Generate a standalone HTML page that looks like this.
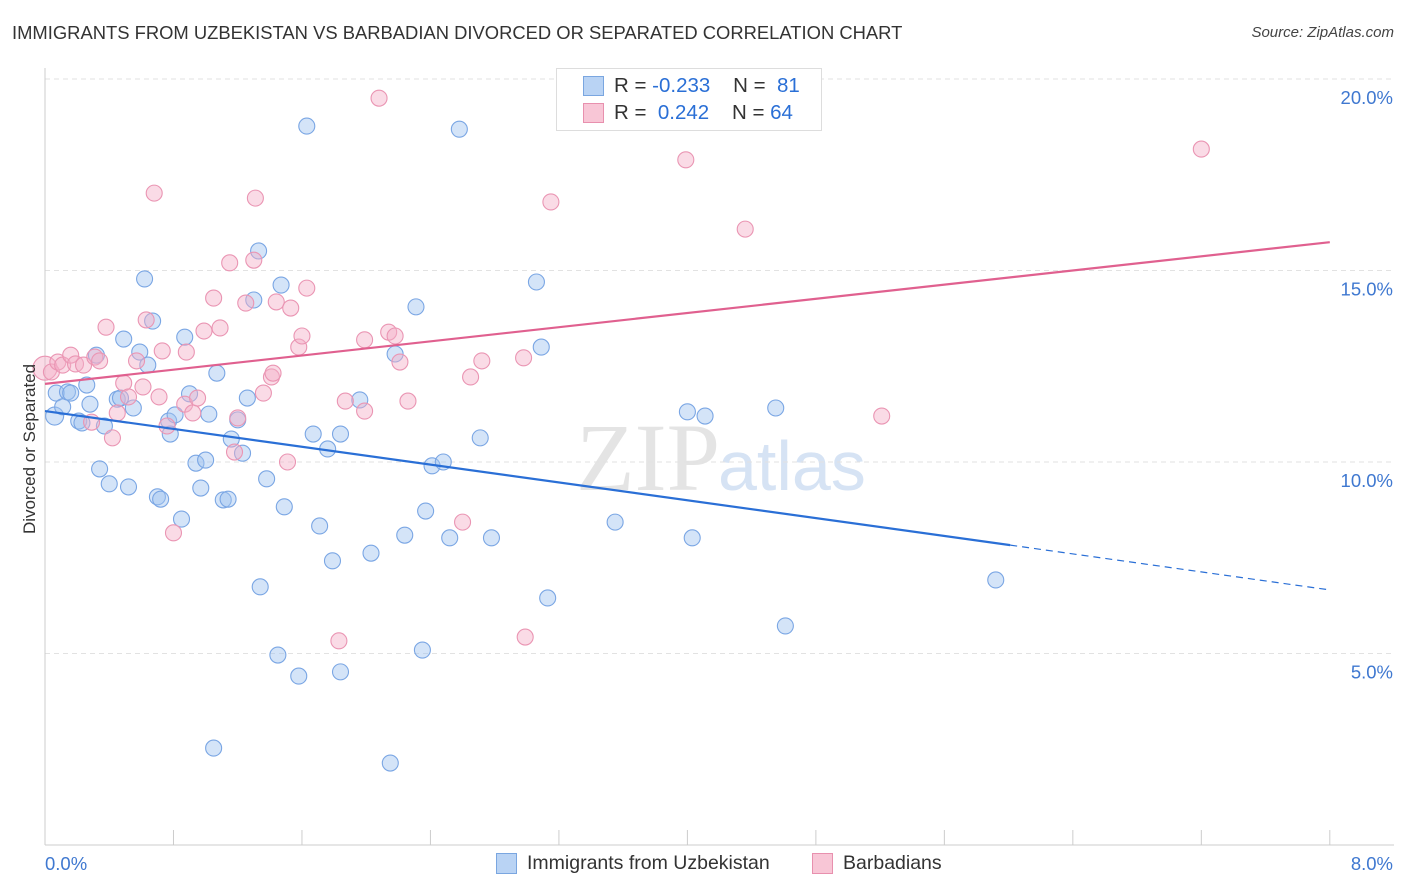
<!DOCTYPE html>
<html><head><meta charset="utf-8"><style>
body{margin:0;background:#fff;font-family:"Liberation Sans",sans-serif;}
#wrap{position:relative;width:1406px;height:892px;overflow:hidden;}
.t{position:absolute;white-space:nowrap;}
</style></head><body>
<div id="wrap">
<div class="t" style="left:12px;top:22px;font-size:18.4px;color:#333;">IMMIGRANTS FROM UZBEKISTAN VS BARBADIAN DIVORCED OR SEPARATED CORRELATION CHART</div>
<div class="t" style="right:12px;top:24px;font-size:15px;color:#444;font-style:italic;">Source: ZipAtlas.com</div>
<svg id="plot" width="1406" height="892" style="position:absolute;left:0;top:0">
<text x="720" y="490" text-anchor="end" font-family="Liberation Serif" font-size="96" fill="#e4e4e4">ZIP</text>
<text x="718" y="490" font-family="Liberation Sans" font-size="70" fill="#d6e3f4">atlas</text>
<g id="grid"></g><g id="pts"></g><g id="lines"></g>
</svg>
<div class="t" style="left:-50px;top:444px;font-size:17px;color:#333;transform:rotate(-90deg);width:160px;text-align:center;">Divorced or Separated</div>
<div style="position:absolute;left:556px;top:68px;width:264px;height:61px;border:1px solid #ddd;background:#fff;">
 <div style="position:absolute;left:26px;top:7px;width:19px;height:18px;background:#b9d3f4;border:1px solid #7aa6e0;"></div>
 <div class="t" style="left:57px;top:5px;font-size:20.5px;color:#333;">R = <span style="color:#2a6fd6">-0.233</span>&nbsp;&nbsp;&nbsp; N = &nbsp;<span style="color:#2a6fd6">81</span></div>
 <div style="position:absolute;left:26px;top:34px;width:19px;height:18px;background:#f8c6d6;border:1px solid #e890ae;"></div>
 <div class="t" style="left:57px;top:32px;font-size:20.5px;color:#333;">R = &nbsp;<span style="color:#2a6fd6">0.242</span>&nbsp;&nbsp;&nbsp; N = <span style="color:#2a6fd6">64</span></div>
</div>
<div style="position:absolute;left:496px;top:853px;width:19px;height:19px;background:#b9d3f4;border:1px solid #7aa6e0;"></div>
<div class="t" style="left:527px;top:852px;font-size:19.5px;color:#333;">Immigrants from Uzbekistan</div>
<div style="position:absolute;left:812px;top:853px;width:19px;height:19px;background:#f8c6d6;border:1px solid #e890ae;"></div>
<div class="t" style="left:843px;top:852px;font-size:19.5px;color:#333;">Barbadians</div>
</div>
<script>
const blueX=[.06,.07,.11,.14,.16,.21,.23,.26,.28,.32,.34,.37,.40,.45,.47,.49,.52,.55,.59,.62,.64,.67,.70,.72,.77,.78,.81,.85,.87,.90,.94,.97,1.00,1.02,1.05,1.07,1.11,1.14,1.16,1.20,1.23,1.26,1.30,1.33,1.34,1.38,1.45,1.47,1.49,1.58,1.63,1.67,1.71,1.76,1.79,1.84,1.84,1.96,2.03,2.15,2.18,2.24,2.31,2.35,2.37,2.41,2.48,2.52,2.58,2.71,2.78,3.06,3.09,3.13,3.55,4.00,4.03,4.11,4.55,4.61,5.92];
const blueY=[11.20,11.80,11.44,11.83,11.80,11.07,11.02,12.01,11.51,12.79,9.82,10.94,9.43,11.64,11.67,13.21,9.35,11.41,12.87,14.78,12.53,13.68,9.09,9.03,11.07,10.73,11.23,8.51,13.26,11.78,9.97,9.32,10.05,11.25,2.53,12.32,9.01,9.03,10.60,11.10,10.23,11.67,14.23,15.51,6.74,9.56,4.96,14.62,8.83,4.41,18.77,10.73,8.33,10.34,7.42,4.52,10.73,11.62,7.62,2.14,12.82,8.09,14.05,5.09,8.72,9.90,10.00,8.02,18.69,10.63,8.02,14.70,13.00,6.45,8.43,11.31,8.02,11.20,11.41,5.72,6.92];
const pinkX=[0.00,.04,.08,.11,.16,.19,.24,.29,.31,.34,.38,.42,.45,.49,.52,.57,.61,.63,.68,.71,.73,.76,.80,.87,.88,.92,.95,.99,1.05,1.09,1.15,1.18,1.20,1.25,1.30,1.31,1.36,1.41,1.42,1.44,1.51,1.53,1.58,1.60,1.63,1.83,1.87,1.99,1.99,2.08,2.14,2.18,2.21,2.26,2.60,2.65,2.72,2.98,2.99,3.15,3.99,4.36,5.21,7.20];
const pinkY=[12.45,12.35,12.61,12.53,12.79,12.56,12.53,11.04,12.74,12.64,13.52,10.63,11.28,12.06,11.70,12.64,11.96,13.71,17.02,11.70,12.90,10.94,8.15,11.51,12.87,11.28,11.67,13.42,14.28,13.50,15.20,10.26,11.15,14.15,15.27,16.89,11.80,12.22,12.32,14.18,10.00,14.02,13.00,13.29,14.54,5.33,11.59,11.33,13.19,19.50,13.39,13.29,12.61,11.59,8.43,12.22,12.64,12.72,5.43,16.79,17.89,16.08,11.20,18.17];
const blueTrend=[[0,11.33],[6.01,7.83],[8,6.66]];
const pinkTrend=[[0,12.04],[8,15.74]];
const yTicks=[5,10,15,20];
const xTickLabels=["0.0%","8.0%"];
const NS="http://www.w3.org/2000/svg";
const sx=v=>45+v*160.6, sy=v=>845-v*38.3;
function mk(tag,attrs,parent){const e=document.createElementNS(NS,tag);for(const k in attrs)e.setAttribute(k,attrs[k]);parent.appendChild(e);return e;}
const grid=document.getElementById('grid'),pts=document.getElementById('pts'),lines=document.getElementById('lines');
yTicks.forEach(t=>{
 const l=mk('line',{x1:45,x2:1394,y1:sy(t),y2:sy(t),stroke:'#e2e2e2','stroke-dasharray':'5,4'},grid);
 
 
 const tx=mk('text',{x:1393,y:sy(t)+25,'text-anchor':'end','font-size':18.5,fill:'#3f78d0','font-family':'Liberation Sans'},grid);
 tx.textContent=t.toFixed(1)+'%';
 
 
});
const ax=mk('line',{x1:45,x2:1394,y1:845,y2:845,stroke:'#ccc'},grid);


const ay=mk('line',{x1:45,x2:45,y1:68,y2:845,stroke:'#ccc'},grid);


for(let i=0;i<=10;i++){
 const tk=mk('line',{x1:sx(i*0.8),x2:sx(i*0.8),y1:830,y2:845,stroke:'#ccc'},grid);
 
 
}
[[0,'start',45],[8,'end',1393]].forEach((a,i)=>{
 const tx=mk('text',{x:a[2],y:870,'text-anchor':a[1],'font-size':18.5,fill:'#3f78d0','font-family':'Liberation Sans'},grid);
 tx.textContent=xTickLabels[i];
 
 
});
blueX.forEach((x,i)=>{
 const c=mk('circle',{cx:sx(x),cy:sy(blueY[i]),r:i===0?9:8,fill:'rgba(160,195,240,0.45)',stroke:'#7aa6e4','stroke-width':1.1},pts);
 
 
});
pinkX.forEach((x,i)=>{
 const c=mk('circle',{cx:sx(x),cy:sy(pinkY[i]),r:i===0?12:8,fill:'rgba(245,175,200,0.45)',stroke:'#ea95b3','stroke-width':1.1},pts);
 
 
});
const b1=mk('line',{x1:sx(blueTrend[0][0]),y1:sy(blueTrend[0][1]),x2:sx(blueTrend[1][0]),y2:sy(blueTrend[1][1]),stroke:'#2a6fd6','stroke-width':2.2},lines);


const b2=mk('line',{x1:sx(blueTrend[1][0]),y1:sy(blueTrend[1][1]),x2:sx(blueTrend[2][0]),y2:sy(blueTrend[2][1]),stroke:'#2a6fd6','stroke-width':1.2,'stroke-dasharray':'7,5'},lines);


const p1=mk('line',{x1:sx(pinkTrend[0][0]),y1:sy(pinkTrend[0][1]),x2:sx(pinkTrend[1][0]),y2:sy(pinkTrend[1][1]),stroke:'#e0608f','stroke-width':2.2},lines);


</script>
</body></html>
